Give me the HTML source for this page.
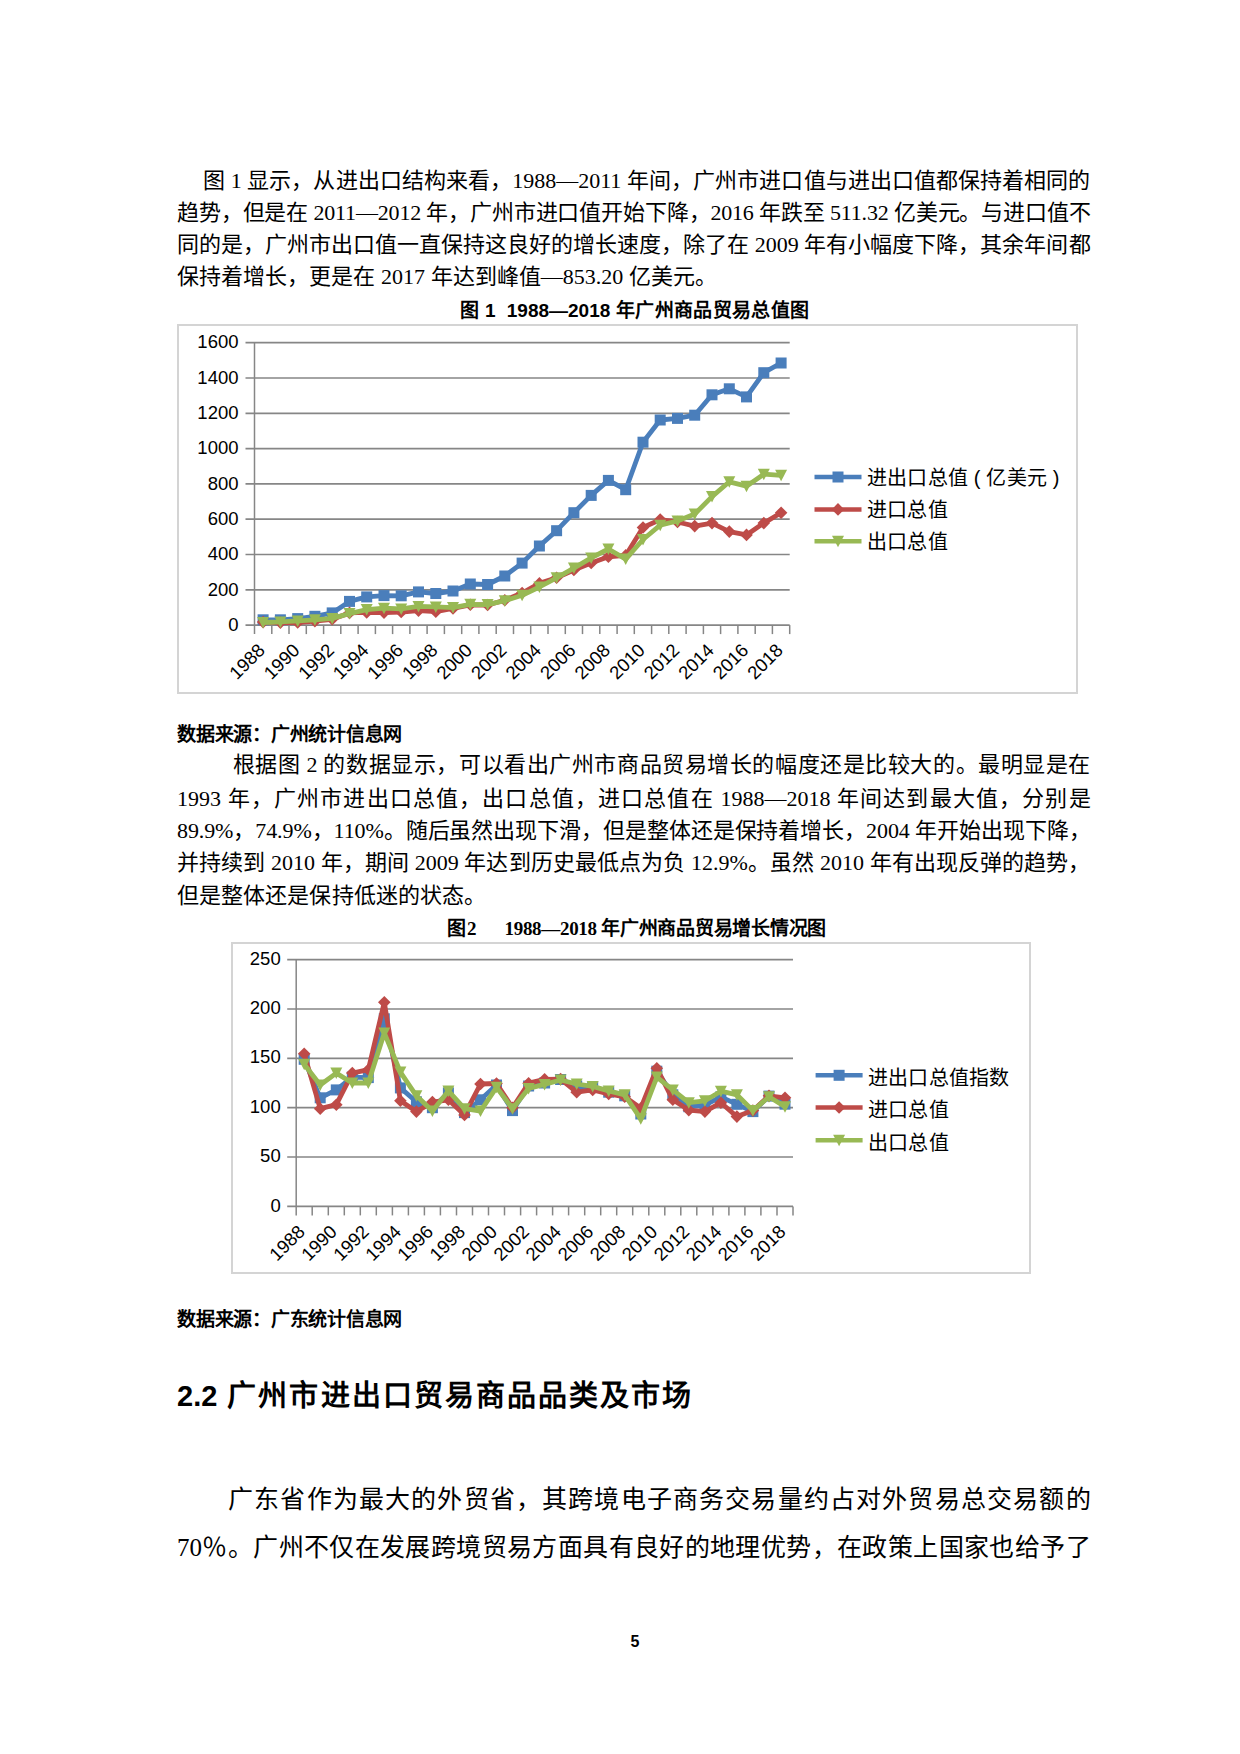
<!DOCTYPE html>
<html lang="zh-CN">
<head>
<meta charset="utf-8">
<title>page 5</title>
<style>
html,body{margin:0;padding:0;background:#fff;}
body{width:1240px;height:1754px;position:relative;overflow:hidden;font-family:"Liberation Serif",serif;color:#000;}
.ln{position:absolute;white-space:nowrap;text-align:justify;text-align-last:justify;text-justify:inter-character;}
.body{font-size:22px;line-height:32px;height:32px;}
.last{text-align:left;text-align-last:left;}
.big{font-size:25px;line-height:36px;height:36px;}
.src{font-size:19px;line-height:24px;font-weight:bold;}
.cap{font-size:19px;line-height:24px;font-weight:bold;}
.sans{font-family:"Liberation Sans",sans-serif;}
.h2{font-family:"Liberation Sans",sans-serif;font-weight:bold;font-size:29px;line-height:40px;}
.pg{font-family:"Liberation Sans",sans-serif;font-weight:bold;font-size:16px;line-height:20px;text-align:center;text-align-last:center;}
svg.chart{position:absolute;display:block;}
svg.chart text{font-family:"Liberation Sans",sans-serif;fill:#000;}
svg.chart text.cjk{letter-spacing:0.2px;}
#c1{left:177px;top:324px;}
#c2{left:231px;top:942px;}
</style>
</head>
<body>
<div class="ln body" style="top:164.7px;left:203px;width:887.5px;">图 1 显示，从进出口结构来看，1988—2011 年间，广州市进口值与进出口值都保持着相同的</div>
<div class="ln body" style="top:196.9px;left:177px;width:913.5px;letter-spacing:-0.175px;">趋势，但是在 2011—2012 年，广州市进口值开始下降，2016 年跌至 511.32 亿美元。与进口值不</div>
<div class="ln body" style="top:229.2px;left:177px;width:913.5px;">同的是，广州市出口值一直保持这良好的增长速度，除了在 2009 年有小幅度下降，其余年间都</div>
<div class="ln body" style="top:261.2px;left:177px;width:540px;">保持着增长，更是在 2017 年达到峰值—853.20 亿美元。</div>
<div class="ln cap sans" style="top:298.5px;left:460px;width:349px;">图 1&nbsp; 1988—2018 年广州商品贸易总值图</div>
<div class="ln src" style="top:722.5999999999999px;left:177px;width:225px;letter-spacing:-0.338px;">数据来源：广州统计信息网</div>
<div class="ln body" style="top:749.1px;left:232.6px;width:857.9px;">根据图 2 的数据显示，可以看出广州市商品贸易增长的幅度还是比较大的。最明显是在</div>
<div class="ln body" style="top:782.6px;left:177px;width:913.5px;">1993 年，广州市进出口总值，出口总值，进口总值在 1988—2018 年间达到最大值，分别是</div>
<div class="ln body" style="top:815.1px;left:177px;width:913.5px;letter-spacing:-0.097px;">89.9%，74.9%，110%。随后虽然出现下滑，但是整体还是保持着增长，2004 年开始出现下降，</div>
<div class="ln body" style="top:847.4px;left:177px;width:913.5px;">并持续到 2010 年，期间 2009 年达到历史最低点为负 12.9%。虽然 2010 年有出现反弹的趋势，</div>
<div class="ln body" style="top:879.9px;left:177px;width:309px;">但是整体还是保持低迷的状态。</div>
<div class="ln cap" style="top:917.4px;left:446.5px;width:30px;">图2</div>
<div class="ln cap" style="top:917.4px;left:504.5px;width:321.5px;letter-spacing:-0.312px;">1988—2018 年广州商品贸易增长情况图</div>
<div class="ln src" style="top:1307.9px;left:177px;width:225px;letter-spacing:-0.338px;">数据来源：广东统计信息网</div>
<div class="ln h2" style="top:1375.7px;left:177px;width:514px;">2.2 广州市进出口贸易商品品类及市场</div>
<div class="ln big" style="top:1482.2px;left:228px;width:862.5px;">广东省作为最大的外贸省，其跨境电子商务交易量约占对外贸易总交易额的</div>
<div class="ln big" style="top:1530.1999999999998px;left:177px;width:913.5px;">70％。广州不仅在发展跨境贸易方面具有良好的地理优势，在政策上国家也给予了</div>
<div class="ln pg" style="top:1631.5px;left:614.9px;width:40px;">5</div>

<div id="c1" style="position:absolute"><svg class="chart" width="901" height="370" viewBox="0 0 901 370">
<rect x="1" y="1" width="899" height="368" fill="#fff" stroke="#d4d4d4" stroke-width="2"/>
<line x1="68.5" y1="301.1" x2="612.7" y2="301.1" stroke="#868686" stroke-width="1.7"/>
<text x="61.5" y="306.8" text-anchor="end" font-size="18.5">0</text>
<line x1="68.5" y1="265.8" x2="612.7" y2="265.8" stroke="#868686" stroke-width="1.7"/>
<text x="61.5" y="271.5" text-anchor="end" font-size="18.5">200</text>
<line x1="68.5" y1="230.5" x2="612.7" y2="230.5" stroke="#868686" stroke-width="1.7"/>
<text x="61.5" y="236.2" text-anchor="end" font-size="18.5">400</text>
<line x1="68.5" y1="195.2" x2="612.7" y2="195.2" stroke="#868686" stroke-width="1.7"/>
<text x="61.5" y="200.9" text-anchor="end" font-size="18.5">600</text>
<line x1="68.5" y1="159.9" x2="612.7" y2="159.9" stroke="#868686" stroke-width="1.7"/>
<text x="61.5" y="165.6" text-anchor="end" font-size="18.5">800</text>
<line x1="68.5" y1="124.6" x2="612.7" y2="124.6" stroke="#868686" stroke-width="1.7"/>
<text x="61.5" y="130.3" text-anchor="end" font-size="18.5">1000</text>
<line x1="68.5" y1="89.3" x2="612.7" y2="89.3" stroke="#868686" stroke-width="1.7"/>
<text x="61.5" y="95.0" text-anchor="end" font-size="18.5">1200</text>
<line x1="68.5" y1="54.0" x2="612.7" y2="54.0" stroke="#868686" stroke-width="1.7"/>
<text x="61.5" y="59.7" text-anchor="end" font-size="18.5">1400</text>
<line x1="68.5" y1="18.7" x2="612.7" y2="18.7" stroke="#868686" stroke-width="1.7"/>
<text x="61.5" y="24.4" text-anchor="end" font-size="18.5">1600</text>
<line x1="77.5" y1="18.69999999999999" x2="77.5" y2="310.1" stroke="#868686" stroke-width="1.5"/>
<line x1="94.8" y1="301.1" x2="94.8" y2="310.1" stroke="#868686" stroke-width="1.5"/>
<line x1="112.0" y1="301.1" x2="112.0" y2="310.1" stroke="#868686" stroke-width="1.5"/>
<line x1="129.3" y1="301.1" x2="129.3" y2="310.1" stroke="#868686" stroke-width="1.5"/>
<line x1="146.6" y1="301.1" x2="146.6" y2="310.1" stroke="#868686" stroke-width="1.5"/>
<line x1="163.8" y1="301.1" x2="163.8" y2="310.1" stroke="#868686" stroke-width="1.5"/>
<line x1="181.1" y1="301.1" x2="181.1" y2="310.1" stroke="#868686" stroke-width="1.5"/>
<line x1="198.4" y1="301.1" x2="198.4" y2="310.1" stroke="#868686" stroke-width="1.5"/>
<line x1="215.6" y1="301.1" x2="215.6" y2="310.1" stroke="#868686" stroke-width="1.5"/>
<line x1="232.9" y1="301.1" x2="232.9" y2="310.1" stroke="#868686" stroke-width="1.5"/>
<line x1="250.1" y1="301.1" x2="250.1" y2="310.1" stroke="#868686" stroke-width="1.5"/>
<line x1="267.4" y1="301.1" x2="267.4" y2="310.1" stroke="#868686" stroke-width="1.5"/>
<line x1="284.7" y1="301.1" x2="284.7" y2="310.1" stroke="#868686" stroke-width="1.5"/>
<line x1="301.9" y1="301.1" x2="301.9" y2="310.1" stroke="#868686" stroke-width="1.5"/>
<line x1="319.2" y1="301.1" x2="319.2" y2="310.1" stroke="#868686" stroke-width="1.5"/>
<line x1="336.5" y1="301.1" x2="336.5" y2="310.1" stroke="#868686" stroke-width="1.5"/>
<line x1="353.7" y1="301.1" x2="353.7" y2="310.1" stroke="#868686" stroke-width="1.5"/>
<line x1="371.0" y1="301.1" x2="371.0" y2="310.1" stroke="#868686" stroke-width="1.5"/>
<line x1="388.3" y1="301.1" x2="388.3" y2="310.1" stroke="#868686" stroke-width="1.5"/>
<line x1="405.5" y1="301.1" x2="405.5" y2="310.1" stroke="#868686" stroke-width="1.5"/>
<line x1="422.8" y1="301.1" x2="422.8" y2="310.1" stroke="#868686" stroke-width="1.5"/>
<line x1="440.1" y1="301.1" x2="440.1" y2="310.1" stroke="#868686" stroke-width="1.5"/>
<line x1="457.3" y1="301.1" x2="457.3" y2="310.1" stroke="#868686" stroke-width="1.5"/>
<line x1="474.6" y1="301.1" x2="474.6" y2="310.1" stroke="#868686" stroke-width="1.5"/>
<line x1="491.8" y1="301.1" x2="491.8" y2="310.1" stroke="#868686" stroke-width="1.5"/>
<line x1="509.1" y1="301.1" x2="509.1" y2="310.1" stroke="#868686" stroke-width="1.5"/>
<line x1="526.4" y1="301.1" x2="526.4" y2="310.1" stroke="#868686" stroke-width="1.5"/>
<line x1="543.6" y1="301.1" x2="543.6" y2="310.1" stroke="#868686" stroke-width="1.5"/>
<line x1="560.9" y1="301.1" x2="560.9" y2="310.1" stroke="#868686" stroke-width="1.5"/>
<line x1="578.2" y1="301.1" x2="578.2" y2="310.1" stroke="#868686" stroke-width="1.5"/>
<line x1="595.4" y1="301.1" x2="595.4" y2="310.1" stroke="#868686" stroke-width="1.5"/>
<line x1="612.7" y1="301.1" x2="612.7" y2="310.1" stroke="#868686" stroke-width="1.5"/>
<text transform="translate(89.1,327.5) rotate(-45)" text-anchor="end" font-size="18.5">1988</text>
<text transform="translate(123.7,327.5) rotate(-45)" text-anchor="end" font-size="18.5">1990</text>
<text transform="translate(158.2,327.5) rotate(-45)" text-anchor="end" font-size="18.5">1992</text>
<text transform="translate(192.7,327.5) rotate(-45)" text-anchor="end" font-size="18.5">1994</text>
<text transform="translate(227.2,327.5) rotate(-45)" text-anchor="end" font-size="18.5">1996</text>
<text transform="translate(261.8,327.5) rotate(-45)" text-anchor="end" font-size="18.5">1998</text>
<text transform="translate(296.3,327.5) rotate(-45)" text-anchor="end" font-size="18.5">2000</text>
<text transform="translate(330.8,327.5) rotate(-45)" text-anchor="end" font-size="18.5">2002</text>
<text transform="translate(365.4,327.5) rotate(-45)" text-anchor="end" font-size="18.5">2004</text>
<text transform="translate(399.9,327.5) rotate(-45)" text-anchor="end" font-size="18.5">2006</text>
<text transform="translate(434.4,327.5) rotate(-45)" text-anchor="end" font-size="18.5">2008</text>
<text transform="translate(469.0,327.5) rotate(-45)" text-anchor="end" font-size="18.5">2010</text>
<text transform="translate(503.5,327.5) rotate(-45)" text-anchor="end" font-size="18.5">2012</text>
<text transform="translate(538.0,327.5) rotate(-45)" text-anchor="end" font-size="18.5">2014</text>
<text transform="translate(572.5,327.5) rotate(-45)" text-anchor="end" font-size="18.5">2016</text>
<text transform="translate(607.1,327.5) rotate(-45)" text-anchor="end" font-size="18.5">2018</text>
<polyline fill="none" stroke="#4a7ebb" stroke-width="4.8" stroke-linejoin="round" stroke-linecap="round" points="86.1,295.8 103.4,295.8 120.7,294.6 137.9,292.3 155.2,288.9 172.5,277.4 189.7,272.9 207.0,271.6 224.2,271.8 241.5,267.9 258.8,269.5 276.0,267.0 293.3,260.0 310.6,260.5 327.8,252.0 345.1,239.1 362.4,222.0 379.6,206.7 396.9,188.7 414.2,171.4 431.4,156.4 448.7,165.7 466.0,118.2 483.2,96.0 500.5,94.4 517.7,91.2 535.0,70.8 552.3,64.8 569.5,72.9 586.8,48.7 604.1,39.0"/><rect x="80.6" y="290.3" width="11.0" height="11.0" fill="#4a7ebb"/><rect x="97.9" y="290.3" width="11.0" height="11.0" fill="#4a7ebb"/><rect x="115.2" y="289.1" width="11.0" height="11.0" fill="#4a7ebb"/><rect x="132.4" y="286.8" width="11.0" height="11.0" fill="#4a7ebb"/><rect x="149.7" y="283.4" width="11.0" height="11.0" fill="#4a7ebb"/><rect x="167.0" y="271.9" width="11.0" height="11.0" fill="#4a7ebb"/><rect x="184.2" y="267.4" width="11.0" height="11.0" fill="#4a7ebb"/><rect x="201.5" y="266.1" width="11.0" height="11.0" fill="#4a7ebb"/><rect x="218.7" y="266.3" width="11.0" height="11.0" fill="#4a7ebb"/><rect x="236.0" y="262.4" width="11.0" height="11.0" fill="#4a7ebb"/><rect x="253.3" y="264.0" width="11.0" height="11.0" fill="#4a7ebb"/><rect x="270.5" y="261.5" width="11.0" height="11.0" fill="#4a7ebb"/><rect x="287.8" y="254.5" width="11.0" height="11.0" fill="#4a7ebb"/><rect x="305.1" y="255.0" width="11.0" height="11.0" fill="#4a7ebb"/><rect x="322.3" y="246.5" width="11.0" height="11.0" fill="#4a7ebb"/><rect x="339.6" y="233.6" width="11.0" height="11.0" fill="#4a7ebb"/><rect x="356.9" y="216.5" width="11.0" height="11.0" fill="#4a7ebb"/><rect x="374.1" y="201.2" width="11.0" height="11.0" fill="#4a7ebb"/><rect x="391.4" y="183.2" width="11.0" height="11.0" fill="#4a7ebb"/><rect x="408.7" y="165.9" width="11.0" height="11.0" fill="#4a7ebb"/><rect x="425.9" y="150.9" width="11.0" height="11.0" fill="#4a7ebb"/><rect x="443.2" y="160.2" width="11.0" height="11.0" fill="#4a7ebb"/><rect x="460.5" y="112.7" width="11.0" height="11.0" fill="#4a7ebb"/><rect x="477.7" y="90.5" width="11.0" height="11.0" fill="#4a7ebb"/><rect x="495.0" y="88.9" width="11.0" height="11.0" fill="#4a7ebb"/><rect x="512.2" y="85.7" width="11.0" height="11.0" fill="#4a7ebb"/><rect x="529.5" y="65.3" width="11.0" height="11.0" fill="#4a7ebb"/><rect x="546.8" y="59.3" width="11.0" height="11.0" fill="#4a7ebb"/><rect x="564.0" y="67.4" width="11.0" height="11.0" fill="#4a7ebb"/><rect x="581.3" y="43.2" width="11.0" height="11.0" fill="#4a7ebb"/><rect x="598.6" y="33.5" width="11.0" height="11.0" fill="#4a7ebb"/>
<polyline fill="none" stroke="#be4b48" stroke-width="4.8" stroke-linejoin="round" stroke-linecap="round" points="86.1,298.1 103.4,298.6 120.7,298.5 137.9,297.2 155.2,295.3 172.5,288.9 189.7,288.4 207.0,288.6 224.2,288.0 241.5,286.6 258.8,287.7 276.0,284.5 293.3,280.8 310.6,281.0 327.8,276.2 345.1,269.0 362.4,259.4 379.6,253.8 396.9,246.0 414.2,239.0 431.4,232.8 448.7,231.4 466.0,203.5 483.2,195.6 500.5,198.0 517.7,202.1 535.0,199.1 552.3,207.6 569.5,210.9 586.8,199.1 604.1,188.8"/><path d="M86.1 291.8L92.4 298.1L86.1 304.4L79.8 298.1Z" fill="#be4b48"/><path d="M103.4 292.3L109.7 298.6L103.4 304.9L97.1 298.6Z" fill="#be4b48"/><path d="M120.7 292.2L127.0 298.5L120.7 304.8L114.4 298.5Z" fill="#be4b48"/><path d="M137.9 290.9L144.2 297.2L137.9 303.5L131.6 297.2Z" fill="#be4b48"/><path d="M155.2 289.0L161.5 295.3L155.2 301.6L148.9 295.3Z" fill="#be4b48"/><path d="M172.5 282.6L178.8 288.9L172.5 295.2L166.2 288.9Z" fill="#be4b48"/><path d="M189.7 282.1L196.0 288.4L189.7 294.7L183.4 288.4Z" fill="#be4b48"/><path d="M207.0 282.3L213.3 288.6L207.0 294.9L200.7 288.6Z" fill="#be4b48"/><path d="M224.2 281.7L230.5 288.0L224.2 294.3L217.9 288.0Z" fill="#be4b48"/><path d="M241.5 280.3L247.8 286.6L241.5 292.9L235.2 286.6Z" fill="#be4b48"/><path d="M258.8 281.4L265.1 287.7L258.8 294.0L252.5 287.7Z" fill="#be4b48"/><path d="M276.0 278.2L282.3 284.5L276.0 290.8L269.7 284.5Z" fill="#be4b48"/><path d="M293.3 274.5L299.6 280.8L293.3 287.1L287.0 280.8Z" fill="#be4b48"/><path d="M310.6 274.7L316.9 281.0L310.6 287.3L304.3 281.0Z" fill="#be4b48"/><path d="M327.8 269.9L334.1 276.2L327.8 282.5L321.5 276.2Z" fill="#be4b48"/><path d="M345.1 262.7L351.4 269.0L345.1 275.3L338.8 269.0Z" fill="#be4b48"/><path d="M362.4 253.1L368.7 259.4L362.4 265.7L356.1 259.4Z" fill="#be4b48"/><path d="M379.6 247.5L385.9 253.8L379.6 260.1L373.3 253.8Z" fill="#be4b48"/><path d="M396.9 239.7L403.2 246.0L396.9 252.3L390.6 246.0Z" fill="#be4b48"/><path d="M414.2 232.7L420.5 239.0L414.2 245.3L407.9 239.0Z" fill="#be4b48"/><path d="M431.4 226.5L437.7 232.8L431.4 239.1L425.1 232.8Z" fill="#be4b48"/><path d="M448.7 225.1L455.0 231.4L448.7 237.7L442.4 231.4Z" fill="#be4b48"/><path d="M466.0 197.2L472.3 203.5L466.0 209.8L459.7 203.5Z" fill="#be4b48"/><path d="M483.2 189.3L489.5 195.6L483.2 201.9L476.9 195.6Z" fill="#be4b48"/><path d="M500.5 191.7L506.8 198.0L500.5 204.3L494.2 198.0Z" fill="#be4b48"/><path d="M517.7 195.8L524.0 202.1L517.7 208.4L511.4 202.1Z" fill="#be4b48"/><path d="M535.0 192.8L541.3 199.1L535.0 205.4L528.7 199.1Z" fill="#be4b48"/><path d="M552.3 201.3L558.6 207.6L552.3 213.9L546.0 207.6Z" fill="#be4b48"/><path d="M569.5 204.6L575.8 210.9L569.5 217.2L563.2 210.9Z" fill="#be4b48"/><path d="M586.8 192.8L593.1 199.1L586.8 205.4L580.5 199.1Z" fill="#be4b48"/><path d="M604.1 182.5L610.4 188.8L604.1 195.1L597.8 188.8Z" fill="#be4b48"/>
<polyline fill="none" stroke="#98b954" stroke-width="4.8" stroke-linejoin="round" stroke-linecap="round" points="86.1,298.5 103.4,297.9 120.7,296.9 137.9,295.8 155.2,294.4 172.5,289.6 189.7,285.6 207.0,284.2 224.2,284.9 241.5,282.4 258.8,282.9 276.0,283.6 293.3,280.3 310.6,280.6 327.8,276.7 345.1,271.3 362.4,263.0 379.6,253.8 396.9,244.1 414.2,233.9 431.4,225.0 448.7,235.1 466.0,215.5 483.2,201.2 500.5,197.0 517.7,190.1 535.0,172.6 552.3,157.8 569.5,162.2 586.8,150.2 604.1,151.3"/><path d="M80.1 293.0L92.1 293.0L86.1 304.5Z" fill="#98b954"/><path d="M97.4 292.4L109.4 292.4L103.4 303.9Z" fill="#98b954"/><path d="M114.7 291.4L126.7 291.4L120.7 302.9Z" fill="#98b954"/><path d="M131.9 290.3L143.9 290.3L137.9 301.8Z" fill="#98b954"/><path d="M149.2 288.9L161.2 288.9L155.2 300.4Z" fill="#98b954"/><path d="M166.5 284.1L178.5 284.1L172.5 295.6Z" fill="#98b954"/><path d="M183.7 280.1L195.7 280.1L189.7 291.6Z" fill="#98b954"/><path d="M201.0 278.7L213.0 278.7L207.0 290.2Z" fill="#98b954"/><path d="M218.2 279.4L230.2 279.4L224.2 290.9Z" fill="#98b954"/><path d="M235.5 276.9L247.5 276.9L241.5 288.4Z" fill="#98b954"/><path d="M252.8 277.4L264.8 277.4L258.8 288.9Z" fill="#98b954"/><path d="M270.0 278.1L282.0 278.1L276.0 289.6Z" fill="#98b954"/><path d="M287.3 274.8L299.3 274.8L293.3 286.3Z" fill="#98b954"/><path d="M304.6 275.1L316.6 275.1L310.6 286.6Z" fill="#98b954"/><path d="M321.8 271.2L333.8 271.2L327.8 282.7Z" fill="#98b954"/><path d="M339.1 265.8L351.1 265.8L345.1 277.3Z" fill="#98b954"/><path d="M356.4 257.5L368.4 257.5L362.4 269.0Z" fill="#98b954"/><path d="M373.6 248.3L385.6 248.3L379.6 259.8Z" fill="#98b954"/><path d="M390.9 238.6L402.9 238.6L396.9 250.1Z" fill="#98b954"/><path d="M408.2 228.4L420.2 228.4L414.2 239.9Z" fill="#98b954"/><path d="M425.4 219.5L437.4 219.5L431.4 231.0Z" fill="#98b954"/><path d="M442.7 229.6L454.7 229.6L448.7 241.1Z" fill="#98b954"/><path d="M460.0 210.0L472.0 210.0L466.0 221.5Z" fill="#98b954"/><path d="M477.2 195.7L489.2 195.7L483.2 207.2Z" fill="#98b954"/><path d="M494.5 191.5L506.5 191.5L500.5 203.0Z" fill="#98b954"/><path d="M511.7 184.6L523.7 184.6L517.7 196.1Z" fill="#98b954"/><path d="M529.0 167.1L541.0 167.1L535.0 178.6Z" fill="#98b954"/><path d="M546.3 152.3L558.3 152.3L552.3 163.8Z" fill="#98b954"/><path d="M563.5 156.7L575.5 156.7L569.5 168.2Z" fill="#98b954"/><path d="M580.8 144.7L592.8 144.7L586.8 156.2Z" fill="#98b954"/><path d="M598.1 145.8L610.1 145.8L604.1 157.3Z" fill="#98b954"/>
<line x1="637.5" y1="153" x2="684.5" y2="153" stroke="#4a7ebb" stroke-width="4.5"/>
<rect x="655.5" y="147.5" width="11.0" height="11.0" fill="#4a7ebb"/>
<text x="690.0" y="161" font-size="20" class="cjk">进出口总值 ( 亿美元 )</text>
<line x1="637.5" y1="185.39999999999998" x2="684.5" y2="185.39999999999998" stroke="#be4b48" stroke-width="4.5"/>
<path d="M661.0 179.1L667.3 185.4L661.0 191.7L654.7 185.4Z" fill="#be4b48"/>
<text x="690.0" y="193.39999999999998" font-size="20" class="cjk">进口总值</text>
<line x1="637.5" y1="217.29999999999995" x2="684.5" y2="217.29999999999995" stroke="#98b954" stroke-width="4.5"/>
<path d="M655.0 211.8L667.0 211.8L661.0 223.3Z" fill="#98b954"/>
<text x="690.0" y="225.29999999999995" font-size="20" class="cjk">出口总值</text>
</svg></div>
<div id="c2" style="position:absolute"><svg class="chart" width="800" height="332" viewBox="0 0 800 332">
<rect x="1" y="1" width="798" height="330" fill="#fff" stroke="#d4d4d4" stroke-width="2"/>
<line x1="56.19999999999999" y1="264.4" x2="562" y2="264.4" stroke="#868686" stroke-width="1.7"/>
<text x="49.69999999999999" y="269.5" text-anchor="end" font-size="18.5">0</text>
<line x1="56.19999999999999" y1="215.0" x2="562" y2="215.0" stroke="#868686" stroke-width="1.7"/>
<text x="49.69999999999999" y="220.1" text-anchor="end" font-size="18.5">50</text>
<line x1="56.19999999999999" y1="165.7" x2="562" y2="165.7" stroke="#868686" stroke-width="1.7"/>
<text x="49.69999999999999" y="170.8" text-anchor="end" font-size="18.5">100</text>
<line x1="56.19999999999999" y1="116.3" x2="562" y2="116.3" stroke="#868686" stroke-width="1.7"/>
<text x="49.69999999999999" y="121.4" text-anchor="end" font-size="18.5">150</text>
<line x1="56.19999999999999" y1="67.0" x2="562" y2="67.0" stroke="#868686" stroke-width="1.7"/>
<text x="49.69999999999999" y="72.1" text-anchor="end" font-size="18.5">200</text>
<line x1="56.19999999999999" y1="17.6" x2="562" y2="17.6" stroke="#868686" stroke-width="1.7"/>
<text x="49.69999999999999" y="22.7" text-anchor="end" font-size="18.5">250</text>
<line x1="65.19999999999999" y1="17.600000000000023" x2="65.19999999999999" y2="273.4000000000001" stroke="#868686" stroke-width="1.5"/>
<line x1="81.2" y1="264.4000000000001" x2="81.2" y2="273.4000000000001" stroke="#868686" stroke-width="1.5"/>
<line x1="97.3" y1="264.4000000000001" x2="97.3" y2="273.4000000000001" stroke="#868686" stroke-width="1.5"/>
<line x1="113.3" y1="264.4000000000001" x2="113.3" y2="273.4000000000001" stroke="#868686" stroke-width="1.5"/>
<line x1="129.3" y1="264.4000000000001" x2="129.3" y2="273.4000000000001" stroke="#868686" stroke-width="1.5"/>
<line x1="145.3" y1="264.4000000000001" x2="145.3" y2="273.4000000000001" stroke="#868686" stroke-width="1.5"/>
<line x1="161.4" y1="264.4000000000001" x2="161.4" y2="273.4000000000001" stroke="#868686" stroke-width="1.5"/>
<line x1="177.4" y1="264.4000000000001" x2="177.4" y2="273.4000000000001" stroke="#868686" stroke-width="1.5"/>
<line x1="193.4" y1="264.4000000000001" x2="193.4" y2="273.4000000000001" stroke="#868686" stroke-width="1.5"/>
<line x1="209.4" y1="264.4000000000001" x2="209.4" y2="273.4000000000001" stroke="#868686" stroke-width="1.5"/>
<line x1="225.5" y1="264.4000000000001" x2="225.5" y2="273.4000000000001" stroke="#868686" stroke-width="1.5"/>
<line x1="241.5" y1="264.4000000000001" x2="241.5" y2="273.4000000000001" stroke="#868686" stroke-width="1.5"/>
<line x1="257.5" y1="264.4000000000001" x2="257.5" y2="273.4000000000001" stroke="#868686" stroke-width="1.5"/>
<line x1="273.5" y1="264.4000000000001" x2="273.5" y2="273.4000000000001" stroke="#868686" stroke-width="1.5"/>
<line x1="289.6" y1="264.4000000000001" x2="289.6" y2="273.4000000000001" stroke="#868686" stroke-width="1.5"/>
<line x1="305.6" y1="264.4000000000001" x2="305.6" y2="273.4000000000001" stroke="#868686" stroke-width="1.5"/>
<line x1="321.6" y1="264.4000000000001" x2="321.6" y2="273.4000000000001" stroke="#868686" stroke-width="1.5"/>
<line x1="337.6" y1="264.4000000000001" x2="337.6" y2="273.4000000000001" stroke="#868686" stroke-width="1.5"/>
<line x1="353.7" y1="264.4000000000001" x2="353.7" y2="273.4000000000001" stroke="#868686" stroke-width="1.5"/>
<line x1="369.7" y1="264.4000000000001" x2="369.7" y2="273.4000000000001" stroke="#868686" stroke-width="1.5"/>
<line x1="385.7" y1="264.4000000000001" x2="385.7" y2="273.4000000000001" stroke="#868686" stroke-width="1.5"/>
<line x1="401.7" y1="264.4000000000001" x2="401.7" y2="273.4000000000001" stroke="#868686" stroke-width="1.5"/>
<line x1="417.8" y1="264.4000000000001" x2="417.8" y2="273.4000000000001" stroke="#868686" stroke-width="1.5"/>
<line x1="433.8" y1="264.4000000000001" x2="433.8" y2="273.4000000000001" stroke="#868686" stroke-width="1.5"/>
<line x1="449.8" y1="264.4000000000001" x2="449.8" y2="273.4000000000001" stroke="#868686" stroke-width="1.5"/>
<line x1="465.8" y1="264.4000000000001" x2="465.8" y2="273.4000000000001" stroke="#868686" stroke-width="1.5"/>
<line x1="481.9" y1="264.4000000000001" x2="481.9" y2="273.4000000000001" stroke="#868686" stroke-width="1.5"/>
<line x1="497.9" y1="264.4000000000001" x2="497.9" y2="273.4000000000001" stroke="#868686" stroke-width="1.5"/>
<line x1="513.9" y1="264.4000000000001" x2="513.9" y2="273.4000000000001" stroke="#868686" stroke-width="1.5"/>
<line x1="529.9" y1="264.4000000000001" x2="529.9" y2="273.4000000000001" stroke="#868686" stroke-width="1.5"/>
<line x1="546.0" y1="264.4000000000001" x2="546.0" y2="273.4000000000001" stroke="#868686" stroke-width="1.5"/>
<line x1="562.0" y1="264.4000000000001" x2="562.0" y2="273.4000000000001" stroke="#868686" stroke-width="1.5"/>
<text transform="translate(75.0,290.9) rotate(-45)" text-anchor="end" font-size="18.5">1988</text>
<text transform="translate(107.1,290.9) rotate(-45)" text-anchor="end" font-size="18.5">1990</text>
<text transform="translate(139.1,290.9) rotate(-45)" text-anchor="end" font-size="18.5">1992</text>
<text transform="translate(171.2,290.9) rotate(-45)" text-anchor="end" font-size="18.5">1994</text>
<text transform="translate(203.2,290.9) rotate(-45)" text-anchor="end" font-size="18.5">1996</text>
<text transform="translate(235.3,290.9) rotate(-45)" text-anchor="end" font-size="18.5">1998</text>
<text transform="translate(267.3,290.9) rotate(-45)" text-anchor="end" font-size="18.5">2000</text>
<text transform="translate(299.4,290.9) rotate(-45)" text-anchor="end" font-size="18.5">2002</text>
<text transform="translate(331.4,290.9) rotate(-45)" text-anchor="end" font-size="18.5">2004</text>
<text transform="translate(363.5,290.9) rotate(-45)" text-anchor="end" font-size="18.5">2006</text>
<text transform="translate(395.5,290.9) rotate(-45)" text-anchor="end" font-size="18.5">2008</text>
<text transform="translate(427.6,290.9) rotate(-45)" text-anchor="end" font-size="18.5">2010</text>
<text transform="translate(459.6,290.9) rotate(-45)" text-anchor="end" font-size="18.5">2012</text>
<text transform="translate(491.7,290.9) rotate(-45)" text-anchor="end" font-size="18.5">2014</text>
<text transform="translate(523.7,290.9) rotate(-45)" text-anchor="end" font-size="18.5">2016</text>
<text transform="translate(555.8,290.9) rotate(-45)" text-anchor="end" font-size="18.5">2018</text>
<polyline fill="none" stroke="#4a7ebb" stroke-width="4.8" stroke-linejoin="round" stroke-linecap="round" points="73.2,117.3 89.2,155.8 105.3,147.9 121.3,135.1 137.3,135.6 153.3,76.8 169.4,145.9 185.4,159.8 201.4,165.7 217.4,150.9 233.5,170.6 249.5,157.8 265.5,143.0 281.5,168.6 297.6,144.0 313.6,141.0 329.6,137.5 345.7,144.0 361.7,145.3 377.7,150.2 393.7,153.8 409.8,172.0 425.8,129.2 441.8,152.8 457.8,164.7 473.9,163.2 489.9,154.8 505.9,162.3 521.9,169.6 538.0,154.1 554.0,162.2"/><rect x="67.7" y="111.8" width="11.0" height="11.0" fill="#4a7ebb"/><rect x="83.7" y="150.3" width="11.0" height="11.0" fill="#4a7ebb"/><rect x="99.8" y="142.4" width="11.0" height="11.0" fill="#4a7ebb"/><rect x="115.8" y="129.6" width="11.0" height="11.0" fill="#4a7ebb"/><rect x="131.8" y="130.1" width="11.0" height="11.0" fill="#4a7ebb"/><rect x="147.8" y="71.3" width="11.0" height="11.0" fill="#4a7ebb"/><rect x="163.9" y="140.4" width="11.0" height="11.0" fill="#4a7ebb"/><rect x="179.9" y="154.3" width="11.0" height="11.0" fill="#4a7ebb"/><rect x="195.9" y="160.2" width="11.0" height="11.0" fill="#4a7ebb"/><rect x="211.9" y="145.4" width="11.0" height="11.0" fill="#4a7ebb"/><rect x="228.0" y="165.1" width="11.0" height="11.0" fill="#4a7ebb"/><rect x="244.0" y="152.3" width="11.0" height="11.0" fill="#4a7ebb"/><rect x="260.0" y="137.5" width="11.0" height="11.0" fill="#4a7ebb"/><rect x="276.0" y="163.1" width="11.0" height="11.0" fill="#4a7ebb"/><rect x="292.1" y="138.5" width="11.0" height="11.0" fill="#4a7ebb"/><rect x="308.1" y="135.5" width="11.0" height="11.0" fill="#4a7ebb"/><rect x="324.1" y="132.0" width="11.0" height="11.0" fill="#4a7ebb"/><rect x="340.2" y="138.5" width="11.0" height="11.0" fill="#4a7ebb"/><rect x="356.2" y="139.8" width="11.0" height="11.0" fill="#4a7ebb"/><rect x="372.2" y="144.7" width="11.0" height="11.0" fill="#4a7ebb"/><rect x="388.2" y="148.3" width="11.0" height="11.0" fill="#4a7ebb"/><rect x="404.3" y="166.5" width="11.0" height="11.0" fill="#4a7ebb"/><rect x="420.3" y="123.7" width="11.0" height="11.0" fill="#4a7ebb"/><rect x="436.3" y="147.3" width="11.0" height="11.0" fill="#4a7ebb"/><rect x="452.3" y="159.2" width="11.0" height="11.0" fill="#4a7ebb"/><rect x="468.4" y="157.7" width="11.0" height="11.0" fill="#4a7ebb"/><rect x="484.4" y="149.3" width="11.0" height="11.0" fill="#4a7ebb"/><rect x="500.4" y="156.8" width="11.0" height="11.0" fill="#4a7ebb"/><rect x="516.4" y="164.1" width="11.0" height="11.0" fill="#4a7ebb"/><rect x="532.5" y="148.6" width="11.0" height="11.0" fill="#4a7ebb"/><rect x="548.5" y="156.7" width="11.0" height="11.0" fill="#4a7ebb"/>
<polyline fill="none" stroke="#be4b48" stroke-width="4.8" stroke-linejoin="round" stroke-linecap="round" points="73.2,111.8 89.2,166.7 105.3,162.7 121.3,131.1 137.3,127.7 153.3,60.3 169.4,158.8 185.4,169.6 201.4,160.1 217.4,157.8 233.5,172.9 249.5,142.0 265.5,141.5 281.5,165.7 297.6,141.2 313.6,137.3 329.6,137.1 345.7,150.2 361.7,147.9 377.7,151.9 393.7,154.8 409.8,166.2 425.8,126.2 441.8,157.8 457.8,168.1 473.9,169.6 489.9,160.7 505.9,174.6 521.9,168.6 538.0,153.8 554.0,155.8"/><path d="M73.2 105.5L79.5 111.8L73.2 118.1L66.9 111.8Z" fill="#be4b48"/><path d="M89.2 160.4L95.5 166.7L89.2 173.0L82.9 166.7Z" fill="#be4b48"/><path d="M105.3 156.4L111.6 162.7L105.3 169.0L99.0 162.7Z" fill="#be4b48"/><path d="M121.3 124.8L127.6 131.1L121.3 137.4L115.0 131.1Z" fill="#be4b48"/><path d="M137.3 121.4L143.6 127.7L137.3 134.0L131.0 127.7Z" fill="#be4b48"/><path d="M153.3 54.0L159.6 60.3L153.3 66.6L147.0 60.3Z" fill="#be4b48"/><path d="M169.4 152.5L175.7 158.8L169.4 165.1L163.1 158.8Z" fill="#be4b48"/><path d="M185.4 163.3L191.7 169.6L185.4 175.9L179.1 169.6Z" fill="#be4b48"/><path d="M201.4 153.8L207.7 160.1L201.4 166.4L195.1 160.1Z" fill="#be4b48"/><path d="M217.4 151.5L223.7 157.8L217.4 164.1L211.1 157.8Z" fill="#be4b48"/><path d="M233.5 166.6L239.8 172.9L233.5 179.2L227.2 172.9Z" fill="#be4b48"/><path d="M249.5 135.7L255.8 142.0L249.5 148.3L243.2 142.0Z" fill="#be4b48"/><path d="M265.5 135.2L271.8 141.5L265.5 147.8L259.2 141.5Z" fill="#be4b48"/><path d="M281.5 159.4L287.8 165.7L281.5 172.0L275.2 165.7Z" fill="#be4b48"/><path d="M297.6 134.9L303.9 141.2L297.6 147.5L291.3 141.2Z" fill="#be4b48"/><path d="M313.6 131.0L319.9 137.3L313.6 143.6L307.3 137.3Z" fill="#be4b48"/><path d="M329.6 130.8L335.9 137.1L329.6 143.4L323.3 137.1Z" fill="#be4b48"/><path d="M345.7 143.9L352.0 150.2L345.7 156.5L339.4 150.2Z" fill="#be4b48"/><path d="M361.7 141.6L368.0 147.9L361.7 154.2L355.4 147.9Z" fill="#be4b48"/><path d="M377.7 145.6L384.0 151.9L377.7 158.2L371.4 151.9Z" fill="#be4b48"/><path d="M393.7 148.5L400.0 154.8L393.7 161.1L387.4 154.8Z" fill="#be4b48"/><path d="M409.8 159.9L416.1 166.2L409.8 172.5L403.5 166.2Z" fill="#be4b48"/><path d="M425.8 119.9L432.1 126.2L425.8 132.5L419.5 126.2Z" fill="#be4b48"/><path d="M441.8 151.5L448.1 157.8L441.8 164.1L435.5 157.8Z" fill="#be4b48"/><path d="M457.8 161.8L464.1 168.1L457.8 174.4L451.5 168.1Z" fill="#be4b48"/><path d="M473.9 163.3L480.2 169.6L473.9 175.9L467.6 169.6Z" fill="#be4b48"/><path d="M489.9 154.4L496.2 160.7L489.9 167.0L483.6 160.7Z" fill="#be4b48"/><path d="M505.9 168.3L512.2 174.6L505.9 180.9L499.6 174.6Z" fill="#be4b48"/><path d="M521.9 162.3L528.2 168.6L521.9 174.9L515.6 168.6Z" fill="#be4b48"/><path d="M538.0 147.5L544.3 153.8L538.0 160.1L531.7 153.8Z" fill="#be4b48"/><path d="M554.0 149.5L560.3 155.8L554.0 162.1L547.7 155.8Z" fill="#be4b48"/>
<polyline fill="none" stroke="#98b954" stroke-width="4.8" stroke-linejoin="round" stroke-linecap="round" points="73.2,122.2 89.2,143.0 105.3,131.1 121.3,141.0 137.3,141.0 153.3,90.9 169.4,130.1 185.4,153.8 201.4,169.1 217.4,148.9 233.5,166.7 249.5,169.1 265.5,145.3 281.5,166.7 297.6,146.4 313.6,142.4 329.6,138.0 345.7,142.0 361.7,144.4 377.7,148.9 393.7,152.8 409.8,176.8 425.8,135.1 441.8,147.9 457.8,160.7 473.9,158.8 489.9,149.2 505.9,152.8 521.9,168.6 538.0,154.8 554.0,164.7"/><path d="M67.2 116.7L79.2 116.7L73.2 128.2Z" fill="#98b954"/><path d="M83.2 137.5L95.2 137.5L89.2 149.0Z" fill="#98b954"/><path d="M99.3 125.6L111.3 125.6L105.3 137.1Z" fill="#98b954"/><path d="M115.3 135.5L127.3 135.5L121.3 147.0Z" fill="#98b954"/><path d="M131.3 135.5L143.3 135.5L137.3 147.0Z" fill="#98b954"/><path d="M147.3 85.4L159.3 85.4L153.3 96.9Z" fill="#98b954"/><path d="M163.4 124.6L175.4 124.6L169.4 136.1Z" fill="#98b954"/><path d="M179.4 148.3L191.4 148.3L185.4 159.8Z" fill="#98b954"/><path d="M195.4 163.6L207.4 163.6L201.4 175.1Z" fill="#98b954"/><path d="M211.4 143.4L223.4 143.4L217.4 154.9Z" fill="#98b954"/><path d="M227.5 161.2L239.5 161.2L233.5 172.7Z" fill="#98b954"/><path d="M243.5 163.6L255.5 163.6L249.5 175.1Z" fill="#98b954"/><path d="M259.5 139.8L271.5 139.8L265.5 151.3Z" fill="#98b954"/><path d="M275.5 161.2L287.5 161.2L281.5 172.7Z" fill="#98b954"/><path d="M291.6 140.9L303.6 140.9L297.6 152.4Z" fill="#98b954"/><path d="M307.6 136.9L319.6 136.9L313.6 148.4Z" fill="#98b954"/><path d="M323.6 132.5L335.6 132.5L329.6 144.0Z" fill="#98b954"/><path d="M339.7 136.5L351.7 136.5L345.7 148.0Z" fill="#98b954"/><path d="M355.7 138.9L367.7 138.9L361.7 150.4Z" fill="#98b954"/><path d="M371.7 143.4L383.7 143.4L377.7 154.9Z" fill="#98b954"/><path d="M387.7 147.3L399.7 147.3L393.7 158.8Z" fill="#98b954"/><path d="M403.8 171.3L415.8 171.3L409.8 182.8Z" fill="#98b954"/><path d="M419.8 129.6L431.8 129.6L425.8 141.1Z" fill="#98b954"/><path d="M435.8 142.4L447.8 142.4L441.8 153.9Z" fill="#98b954"/><path d="M451.8 155.2L463.8 155.2L457.8 166.7Z" fill="#98b954"/><path d="M467.9 153.3L479.9 153.3L473.9 164.8Z" fill="#98b954"/><path d="M483.9 143.7L495.9 143.7L489.9 155.2Z" fill="#98b954"/><path d="M499.9 147.3L511.9 147.3L505.9 158.8Z" fill="#98b954"/><path d="M515.9 163.1L527.9 163.1L521.9 174.6Z" fill="#98b954"/><path d="M532.0 149.3L544.0 149.3L538.0 160.8Z" fill="#98b954"/><path d="M548.0 159.2L560.0 159.2L554.0 170.7Z" fill="#98b954"/>
<line x1="584.6" y1="133.29999999999995" x2="631.6" y2="133.29999999999995" stroke="#4a7ebb" stroke-width="4.5"/>
<rect x="602.6" y="127.8" width="11.0" height="11.0" fill="#4a7ebb"/>
<text x="637.1" y="142.49999999999994" font-size="20" class="cjk">进出口总值指数</text>
<line x1="584.6" y1="165.5" x2="631.6" y2="165.5" stroke="#be4b48" stroke-width="4.5"/>
<path d="M608.1 159.2L614.4 165.5L608.1 171.8L601.8 165.5Z" fill="#be4b48"/>
<text x="637.1" y="174.7" font-size="20" class="cjk">进口总值</text>
<line x1="584.6" y1="198.29999999999995" x2="631.6" y2="198.29999999999995" stroke="#98b954" stroke-width="4.5"/>
<path d="M602.1 192.8L614.1 192.8L608.1 204.3Z" fill="#98b954"/>
<text x="637.1" y="207.49999999999994" font-size="20" class="cjk">出口总值</text>
</svg></div>
</body>
</html>
